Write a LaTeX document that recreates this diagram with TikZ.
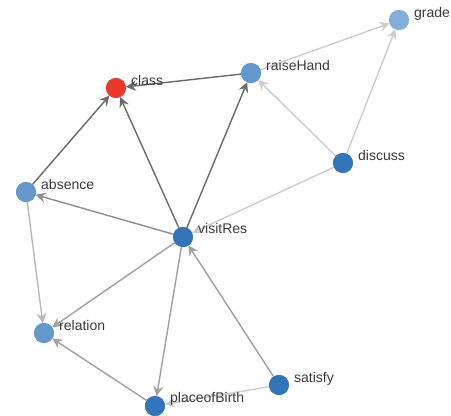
\documentclass[tikz,border=0pt]{standalone}
\usepackage{fontspec}
\setmainfont{Liberation Sans}
\usetikzlibrary{arrows.meta}
\definecolor{nred}{HTML}{E8392B}
\definecolor{ndark}{HTML}{3274B8}
\definecolor{nmid}{HTML}{6497CB}
\definecolor{nlight}{HTML}{84AEDA}
\definecolor{txt}{HTML}{3A3A3A}
\definecolor{e1}{HTML}{6A6A6A}
\definecolor{e2}{HTML}{8C8C8C}
\definecolor{e3}{HTML}{A0A0A0}
\definecolor{e4}{HTML}{B8B8B8}
\definecolor{e5}{HTML}{CDCDCD}
\tikzset{
  vert/.style={circle, inner sep=0pt, outer sep=0pt, minimum size=20pt, draw=none, fill=#1},
  lbl/.style={anchor=base west, inner sep=0pt, font=\fontsize{14pt}{16pt}\selectfont, text=txt},
  edge/.style={draw=#1, line width=1.4pt, -{Stealth[length=10pt, width=10pt, inset=3.5pt]}},
}
\begin{document}
\begin{tikzpicture}[x=1pt, y=-1pt]
\useasboundingbox (0,0) rectangle (451,416);
% nodes
\node[vert=nred]   (class)  at (116,88)  {};
\node[vert=nmid]   (raise)  at (251,73)  {};
\node[vert=nlight] (grade)  at (399,20)  {};
\node[vert=ndark]  (discuss) at (343,163) {};
\node[vert=nmid]   (absence) at (26,192) {};
\node[vert=ndark]  (visit)  at (183,237) {};
\node[vert=nmid]   (relation) at (44,333) {};
\node[vert=ndark]  (pob)    at (155,406) {};
\node[vert=ndark]  (satisfy) at (279,385) {};
% edges
\begin{scope}[on background layer/.style={}]
\path[edge=e1] (raise) -- (class);
\path[edge=e1] (absence) -- (class);
\path[edge=e1] (visit) -- (class);
\path[edge=e1] (visit) -- (raise);
\path[edge=e5] (raise) -- (grade);
\path[edge=e5] (discuss) -- (grade);
\path[edge=e5] (discuss) -- (raise);
\path[edge=e5] (discuss) -- (visit);
\path[edge=e2] (visit) -- (absence);
\path[edge=e4] (absence) -- (relation);
\path[edge=e3] (visit) -- (relation);
\path[edge=e3] (visit) -- (pob);
\path[edge=e3] (satisfy) -- (visit);
\path[edge=e3] (pob) -- (relation);
\path[edge=e5] (satisfy) -- (pob);
\end{scope}
% redraw nodes on top
\node[vert=nred]   at (class)  {};
\node[vert=nmid]   at (raise)  {};
\node[vert=nlight] at (grade)  {};
\node[vert=ndark]  at (discuss) {};
\node[vert=nmid]   at (absence) {};
\node[vert=ndark]  at (visit)  {};
\node[vert=nmid]   at (relation) {};
\node[vert=ndark]  at (pob)    {};
\node[vert=ndark]  at (satisfy) {};
% labels
\node[lbl] (class-l)   at (131,85)  {class};
\node[lbl] (raise-l)   at (266,70)  {raiseHand};
\node[lbl] (grade-l)   at (414,17)  {grade};
\node[lbl] (discuss-l) at (358,160) {discuss};
\node[lbl] (absence-l) at (41,189)  {absence};
\node[lbl] (visit-l)   at (198,233) {visitRes};
\node[lbl] (relation-l) at (59,330) {relation};
\node[lbl] (pob-l)     at (170,402) {placeofBirth};
\node[lbl] (satisfy-l) at (294,382) {satisfy};
\end{tikzpicture}
\end{document}
